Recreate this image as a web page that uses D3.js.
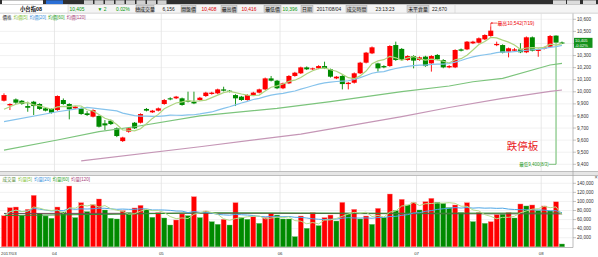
<!DOCTYPE html>
<html><head><meta charset="utf-8">
<script src="https://cdn.jsdelivr.net/npm/d3@7"></script>
<style>
html,body{margin:0;padding:0;background:#fff;overflow:hidden}
svg{display:block}
text{font-family:"Liberation Sans","Noto Sans CJK TC",sans-serif}
</style></head><body>
<svg id="c" width="598" height="257"></svg>
<script>
// ---------------- DATA ----------------
const opens = [9926,9888,9937,9926,9882,9918,9899,9863,9858,9849,9932,9899,9863,9863,9822,9794,9800,9739,9761,9698,
 9592,9670,9744,9744,9858,9830,9844,9899,9946,9946,9946,9926,9918,9932,9965,9982,9987,10020,10009,9973,
 9960,9932,9971,9993,10020,10111,10092,10029,10070,10131,10153,10202,10186,10194,10213,10186,10111,10131,10064,10075,
 10153,10241,10318,10235,10213,10213,10387,10355,10263,10296,10263,10291,10235,10305,10263,10202,10202,10351,10351,10401,
 10406,10434,10462,10386,10387,10332,10340,10351,10327,10451,10338,10357,10373,10465,10408];
const closes = [9973,9899,9910,9899,9868,9882,9858,9844,9827,9965,9899,9855,9877,9816,9808,9849,9711,9722,9733,9634,
 9622,9698,9698,9816,9844,9844,9863,9932,9937,9960,9891,9918,9904,9951,9993,9993,10020,10009,10001,9946,
 9932,9973,9993,10020,10111,10092,10029,10070,10131,10158,10202,10186,10194,10213,10194,10125,10125,10064,10075,10153,
 10241,10324,10368,10194,10202,10379,10263,10263,10296,10258,10285,10213,10296,10269,10202,10213,10346,10340,10415,10415,
 10443,10470,10506,10396,10324,10360,10351,10327,10451,10340,10352,10368,10462,10407,10405];
const highs = [9987,9905,9945,9932,9918,9925,9905,9870,9862,9970,9945,9905,9882,9870,9840,9855,9805,9766,9770,9705,
 9628,9705,9750,9822,9866,9850,9870,9940,9955,9966,9952,10001,10001,9958,10000,10000,10026,10042,10015,9980,
 9966,9980,10000,10026,10118,10131,10098,10076,10138,10165,10208,10210,10200,10220,10249,10192,10131,10138,10082,10160,
 10248,10330,10375,10241,10220,10386,10415,10362,10303,10303,10292,10298,10303,10312,10270,10220,10352,10358,10420,10422,
 10450,10476,10542,10415,10393,10366,10362,10402,10458,10458,10358,10374,10470,10470,10416];
const lows = [9920,9849,9900,9893,9835,9808,9850,9838,9820,9843,9893,9772,9858,9810,9800,9788,9705,9684,9725,9625,
 9585,9662,9692,9738,9838,9825,9838,9893,9930,9940,9885,9912,9898,9926,9958,9976,9980,10003,9995,9882,
 9925,9926,9965,9987,10015,10086,10022,10022,10064,10125,10147,10180,10180,10188,10188,10118,10105,10020,10020,10068,
 10147,10235,10312,10167,10195,10207,10256,10256,10257,10194,10257,10207,10167,10262,10195,10195,10196,10334,10345,10395,
 10400,10428,10456,10378,10318,10285,10330,10320,10320,10334,10290,10350,10367,9400,10396];
const priorCloses = [9790, 9810, 9840, 9862];

const volumes = [68500,86200,87700,68500,82600,113500,73800,67900,62800,87700,76700,134000,64300,97300,77500,92800,105400,81100,62800,61300,
 79600,75200,85600,91400,81800,65000,75200,63500,48000,59100,72300,68500,110500,64300,
 78900,55300,49500,60600,48000,97300,64300,60600,66500,51700,64300,73800,70000,61300,61300,22300,67900,40700,75200,46600,
 64300,70000,56800,98000,72300,82600,61300,67900,49500,84800,64300,116400,79600,
 104700,92200,97300,81100,99500,106900,98000,95800,86300,92200,75300,97300,55400,75300,51700,55400,70800,71600,75300,63500,
 94400,90000,92200,79700,90000,78900,99200,6156];
const volUp = [1,1,1,0,1,1,0,0,0,1,0,1,0,1,0,1,1,0,0,0,1,0,1,1,0,0,1,0,0,1,1,0,1,0,
 1,0,0,1,0,1,0,0,1,0,1,1,0,0,0,0,1,0,1,0,1,1,0,1,0,1,0,1,0,1,0,1,0,
 1,0,1,0,1,1,0,0,0,1,0,1,0,1,0,1,1,0,1,0,1,0,1,0,1,0,1,0];

const ma20Head = [[0,9753],[9,9835],[14,9871]];
const ma60Pts = [[0,9518],[9,9601],[16,9670],[22,9711],[33,9800],[46,9863],[55,9918],[67,10001],[75,10048],[79,10083],[84,10111],[92,10222],[94,10235]];
const ma120Pts = [[13,9428],[33,9545],[50,9650],[67,9795],[75,9870],[84,9945],[92,10003],[94,10015]];
const vma60Pts = [[0,69000],[20,72000],[33,75000],[50,74500],[66,74000],[94,74500]];
const vma120Pts = [[0,73500],[33,74000],[66,73000],[94,72500]];

const priceTicks = [9400,9500,9600,9700,9800,9900,10000,10100,10200,10300,10400,10500,10600];
const volTicks = [20000,40000,60000,80000,100000,120000,140000];
const monthIdx = [0,9,27,47,70,91];
const monthLabels = ["2017/03","04","05","06","07","08"];

const priceLegend = ["價格","均價[5]","均價[20]","均價[60]","均價[120]"];
const volLegend = ["成交量","均量[5]","均量[20]","均量[60]","均量[120]"];
const headerCells = ["小台指08","10,405","▼ 2","0.02%","總成交量","6,156","開盤價","10,408","最高價","10,416","最低價","10,396","日期","2017/08/04","成交時間","23:13:23","未平倉量","22,670"];
const lastPrice = ["10,405","-0.02%"];
const highNote = {idx:82, text:"最高10,542(7/19)"};
const lowNote = {idx:93, text:"最低9,400(8/3)"};
const bigNote = "跌停板";

// ---------------- DRAW ----------------
const W=598,H=257,N=closes.length;
const svg=d3.select('#c');
const RED='#ff0000', GRN='#008a00';
const cMA5='#aed57f', cMA20='#86c3ec', cMA60='#7cc47c', cMA120='#c596b6';
const plotR=573, pTop=13.5, pBot=171.5, vTop=175.5, vBot=247.5;

const x=d3.scaleBand().domain(d3.range(N)).range([1.03,1.03+5.936*N]).paddingInner(0.15).paddingOuter(0.075);
const bw=x.bandwidth();
const cx=i=>x(i)+bw/2;
const bx=i=>1.03+5.936*i;
const y=d3.scaleLinear().domain([9400,10600]).range([164.3,19.3]);
const yv=d3.scaleLinear().domain([0,140000]).range([246.8,183.3]);

svg.append('rect').attr('width',W).attr('height',H).attr('fill','#fff');

// toolbar
svg.append('rect').attr('x',0).attr('y',0).attr('width',W).attr('height',4.5).attr('fill','#2f2f2f');
svg.append('rect').attr('x',2).attr('y',0.3).attr('width',41).attr('height',3.8).attr('fill','#fff');
svg.append('rect').attr('x',46).attr('y',0.3).attr('width',17).attr('height',3.8).attr('fill','#2a6fd6');
d3.range(8).forEach(k=>svg.append('rect').attr('x',84+k*10.5).attr('y',0.3).attr('width',9).attr('height',3.8).attr('fill','#d0d0d0'));
[553,567,583].forEach(v=>svg.append('rect').attr('x',v).attr('y',0.3).attr('width',13).attr('height',3.8).attr('fill','#dcdcdc'));

// header row
svg.append('rect').attr('x',0).attr('y',4.5).attr('width',W).attr('height',8.5).attr('fill','#f4f4f4');
svg.append('rect').attr('x',0).attr('y',4.8).attr('width',68).attr('height',8).attr('fill','#fff');
svg.append('line').attr('x1',0).attr('x2',W).attr('y1',13.2).attr('y2',13.2).attr('stroke','#b8b8b8').attr('stroke-width',0.6);
const hdrPos=[[31,'#111',0,1],[77,'#0a9a0a'],[102,'#0a9a0a'],[123,'#0a9a0a'],[145,'#111',[136,154]],[168.5,'#222'],
 [188.5,'#111',[181,196]],[209,'#e00000'],[229,'#111',[221,237]],[249,'#e00000'],[272.5,'#111',[264,281]],[290,'#0a9a0a'],
 [307,'#111',[301,313]],[329,'#222'],[356.5,'#111',[346,367]],[385,'#222'],[418,'#111',[407,429]],[439.5,'#222']];
headerCells.forEach((t,k)=>{
  const p=hdrPos[k];
  if(p[2]) svg.append('rect').attr('x',p[2][0]).attr('y',5.2).attr('width',p[2][1]-p[2][0]).attr('height',7.2)
     .attr('fill','#d3d3d3').attr('stroke','#9a9a9a').attr('stroke-width',0.4);
  svg.append('text').attr('x',p[0]).attr('y',11).attr('text-anchor','middle').attr('font-size',p[3]?5.4:4.9)
     .attr('font-weight',p[3]?'bold':'normal').attr('fill',p[1]).text(t);
});
[68,455].forEach(v=>svg.append('line').attr('x1',v).attr('x2',v).attr('y1',4.5).attr('y2',13).attr('stroke','#c8c8c8').attr('stroke-width',0.5));

// grids
const grid=svg.append('g');
priceTicks.forEach(t=>grid.append('line').attr('x1',0).attr('x2',plotR).attr('y1',y(t)).attr('y2',y(t)).attr('stroke','#ebebeb').attr('stroke-width',0.7));
volTicks.forEach(t=>grid.append('line').attr('x1',0).attr('x2',plotR).attr('y1',yv(t)).attr('y2',yv(t)).attr('stroke','#ebebeb').attr('stroke-width',0.7));
monthIdx.slice(1).forEach(i=>{
  grid.append('line').attr('x1',bx(i)).attr('x2',bx(i)).attr('y1',pTop).attr('y2',pBot).attr('stroke','#e2e2e2').attr('stroke-width',0.8);
  grid.append('line').attr('x1',bx(i)).attr('x2',bx(i)).attr('y1',vTop).attr('y2',vBot).attr('stroke','#e2e2e2').attr('stroke-width',0.8);
});

// clips
const defs=svg.append('defs');
defs.append('clipPath').attr('id','pc').append('rect').attr('x',0).attr('y',pTop).attr('width',plotR).attr('height',pBot-pTop);
defs.append('clipPath').attr('id','vc').append('rect').attr('x',0).attr('y',vTop).attr('width',plotR).attr('height',vBot-vTop);

// candles
const pg=svg.append('g').attr('clip-path','url(#pc)');
d3.range(N).forEach(i=>{
  const up=closes[i]>=opens[i], col=up?RED:GRN;
  const top=y(Math.max(opens[i],closes[i])), bot=y(Math.min(opens[i],closes[i]));
  if(i===lowNote.idx){
    pg.append('line').attr('x1',cx(i)).attr('x2',cx(i)).attr('y1',bot).attr('y2',y(lows[i])).attr('stroke','#9fd39f').attr('stroke-width',1.6);
    pg.append('line').attr('x1',cx(i)).attr('x2',cx(i)).attr('y1',y(highs[i])).attr('y2',top).attr('stroke',col).attr('stroke-width',0.9);
  } else {
    pg.append('line').attr('x1',cx(i)).attr('x2',cx(i)).attr('y1',y(highs[i])).attr('y2',y(lows[i])).attr('stroke',col).attr('stroke-width',0.9);
  }
  pg.append('rect').attr('x',x(i)).attr('y',top).attr('width',bw).attr('height',Math.max(1,bot-top)).attr('fill',col);
});

// price MAs
const allC=priorCloses.concat(closes);
const ma5=d3.range(N).map(i=>[i,d3.mean(allC.slice(i,i+5))]);
const ma20=ma20Head.concat(d3.range(19,N).map(i=>[i,d3.mean(closes.slice(i-19,i+1))]));
const pl=d3.line().x(d=>cx(d[0])).y(d=>y(d[1]));
[[ma120Pts,cMA120],[ma60Pts,cMA60],[ma20,cMA20],[ma5,cMA5]].forEach(([d,c])=>
  pg.append('path').attr('d',pl(d)).attr('fill','none').attr('stroke',c).attr('stroke-width',1.2));

// volume bars
const vg=svg.append('g').attr('clip-path','url(#vc)');
d3.range(N).forEach(i=>{
  vg.append('rect').attr('x',x(i)).attr('y',yv(volumes[i])).attr('width',bw).attr('height',yv(0)-yv(volumes[i]))
    .attr('fill',volUp[i]?RED:GRN).attr('stroke',volUp[i]?'#ff8a8a':'#5fb85f').attr('stroke-width',0.4);
});
const vma5=d3.range(N).map(i=>[i,d3.mean(volumes.slice(Math.max(0,i-4),i+1))]);
const vma20=d3.range(N).map(i=>[i,d3.mean(volumes.slice(Math.max(0,i-19),i+1))]);
const vl=d3.line().x(d=>cx(d[0])).y(d=>yv(d[1]));
[[vma120Pts,'#6e4a55'],[vma60Pts,'#2e8f2e'],[vma20,'#4ea6e6'],[vma5,'#b5dc8a']].forEach(([d,c])=>
  vg.append('path').attr('d',vl(d)).attr('fill','none').attr('stroke',c).attr('stroke-width',1));

// frames & separator
svg.append('rect').attr('x',0).attr('y',pBot).attr('width',W).attr('height',vTop-pBot).attr('fill','#e6e6e6');
svg.append('line').attr('x1',0).attr('x2',W).attr('y1',pBot).attr('y2',pBot).attr('stroke','#a8a8a8').attr('stroke-width',0.7);
svg.append('line').attr('x1',0).attr('x2',W).attr('y1',vTop).attr('y2',vTop).attr('stroke','#a8a8a8').attr('stroke-width',0.7);
svg.append('line').attr('x1',plotR).attr('x2',plotR).attr('y1',pTop).attr('y2',vBot).attr('stroke','#a0a0a0').attr('stroke-width',0.7);
svg.append('line').attr('x1',0).attr('x2',plotR).attr('y1',vBot).attr('y2',vBot).attr('stroke','#a0a0a0').attr('stroke-width',0.7);

// axes labels
const ly=y(closes[N-1]);
const ax=svg.append('g').attr('font-size',4.6).attr('fill','#333');
priceTicks.forEach(t=>{
  ax.append('line').attr('x1',plotR).attr('x2',plotR+3).attr('y1',y(t)).attr('y2',y(t)).attr('stroke','#888').attr('stroke-width',0.5);
  if(Math.abs(y(t)-ly)>6) ax.append('text').attr('x',577).attr('y',y(t)+1.6).text(d3.format(',')(t));
});
volTicks.forEach(t=>{
  ax.append('line').attr('x1',plotR).attr('x2',plotR+3).attr('y1',yv(t)).attr('y2',yv(t)).attr('stroke','#888').attr('stroke-width',0.5);
  ax.append('text').attr('x',577).attr('y',yv(t)+1.6).text(d3.format(',')(t));
});
monthIdx.forEach((i,k)=>{
  ax.append('text').attr('x',k===0?1:bx(i)).attr('y',254.5).attr('text-anchor',k===0?'start':'middle').attr('font-size',4.3).text(monthLabels[k]);
});

// last price box
svg.append('rect').attr('x',574).attr('y',ly-5).attr('width',18.5).attr('height',10).attr('fill','#14911a');
svg.append('text').attr('x',575).attr('y',ly-0.6).attr('font-size',4.1).attr('fill','#fff').text(lastPrice[0]);
svg.append('text').attr('x',575).attr('y',ly+4).attr('font-size',4.1).attr('fill','#fff').text(lastPrice[1]);

// legends
const plx=[2.5,13.5,29.5,48,66.5], pc=['#222','#86c442','#3c94dc','#2ea52e','#a8447c'];
priceLegend.forEach((t,k)=>svg.append('text').attr('x',plx[k]).attr('y',18.6).attr('font-size',4.5).attr('fill',pc[k]).text(t));
const vlx=[2.5,18,34,52.5,71], vc=['#5a8f3c','#86c442','#3c94dc','#2ea52e','#a8447c'];
volLegend.forEach((t,k)=>svg.append('text').attr('x',vlx[k]).attr('y',181.3).attr('font-size',4.5).attr('fill',vc[k]).text(t));
svg.append('text').attr('x',594.5).attr('y',179).attr('font-size',5.5).attr('fill','#555').text('×');

// annotations
const hx=cx(highNote.idx), hy=y(highs[highNote.idx]);
svg.append('path').attr('d',`M${hx},${hy}V${hy-3.2}H${hx+6.5}`).attr('fill','none').attr('stroke','#e00').attr('stroke-width',0.6);
svg.append('path').attr('d',`M${hx},${hy-3.2}l1.6,-1l0,2z`).attr('fill','#e00');
svg.append('text').attr('x',hx+6.8).attr('y',hy-1.6).attr('font-size',4.8).attr('fill','#e00').text(highNote.text);
const lx=cx(lowNote.idx), lyy=y(lows[lowNote.idx]);
svg.append('line').attr('x1',lx-7).attr('x2',lx).attr('y1',lyy).attr('y2',lyy).attr('stroke','#2a9a2a').attr('stroke-width',0.6);
svg.append('text').attr('x',lx-7.3).attr('y',lyy+1.6).attr('text-anchor','end').attr('font-size',4.5).attr('fill','#2a9a2a').text(lowNote.text);
svg.append('text').attr('x',522.5).attr('y',150).attr('text-anchor','middle').attr('font-size',10.5).attr('fill','#e8191c')
  .attr('font-family','"Noto Sans CJK TC",sans-serif').text(bigNote);
</script>
</body></html>
